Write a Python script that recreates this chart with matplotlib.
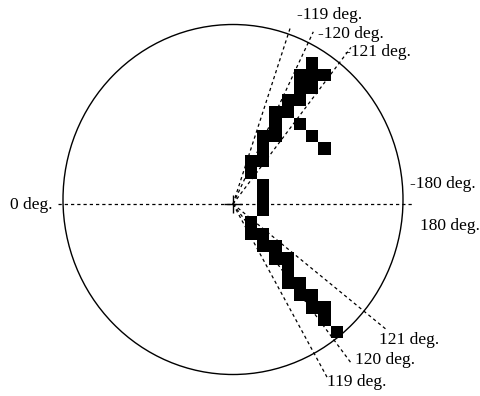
import numpy as np
import matplotlib.pyplot as plt
from matplotlib.patches import Ellipse
from matplotlib.colors import ListedColormap

# Occupied cells of the detection grid: for each row (top to bottom) the occupied columns
grid_rows = [
    [5], [4, 5, 6], [4, 5], [3, 4], [2, 3], [2, 4], [1, 2, 5], [1, 6],
    [0, 1], [0], [1], [1], [1], [0], [0, 1], [1, 2], [2, 3], [3],
    [3, 4], [4, 5], [5, 6], [6], [7],
]
n_cols = 8

# Bearing labels and the on-screen direction (degrees, counter-clockwise from +x) of each ray
ray_labels = ["-119 deg.", "-120 deg.", "-121 deg.", "119 deg.", "120 deg.", "121 deg."]
ray_dirs = [72.0, 65.0, 53.0, -61.5, -53.4, -39.3]
ray_lengths = [187, 190, 196, 197, 197, 199]
label_pos = [(64, 189), (85, 170), (112, 152), (94, -178), (122, -156), (146, -136)]

axis_labels = ["0 deg.", "-180 deg.", "180 deg."]
axis_label_pos = [(-180, -1), (177, 20), (187, -22)]
axis_label_ha = ["right", "left", "left"]

fig = plt.figure(figsize=(4.81, 3.96), dpi=100)
ax = fig.add_axes([0, 0, 1, 1])
ax.set_xlim(-233, 248)
ax.set_ylim(-192, 204)
ax.axis("off")

font = dict(family="Liberation Serif", size=12.5, color="black")

# outer ring
ax.add_patch(Ellipse((0, 4.5), 340, 350, fill=False, lw=1.0, ec="black"))

dash = (0, (2.6, 2.4))
# horizontal reference line through the origin
ax.plot([-175, 179], [0, 0], color="black", lw=0.9, ls=dash)

# bearing rays
for d, L in zip(ray_dirs, ray_lengths):
    t = np.deg2rad(d)
    ax.plot([0, L * np.cos(t)], [0, L * np.sin(t)], color="black", lw=0.9, ls=dash)

# grid of occupied cells
grid = np.zeros((len(grid_rows), n_cols))
for i, cols in enumerate(grid_rows):
    grid[i, cols] = 1
pitch = 12.2
x0, y_top = 12.5, 146.7
ax.imshow(np.ma.masked_equal(grid, 0), cmap=ListedColormap(["black"]),
          extent=(x0, x0 + n_cols * pitch, y_top - len(grid_rows) * pitch, y_top),
          interpolation="nearest", aspect="auto", zorder=3)
ax.set_xlim(-233, 248)
ax.set_ylim(-192, 204)

# origin marker
ax.plot([0], [0], marker="+", ms=13, mew=1.0, color="black", zorder=4)

for txt, (x, y) in zip(ray_labels, label_pos):
    ax.text(x, y, txt, ha="left", va="center", **font)
for txt, (x, y), ha in zip(axis_labels, axis_label_pos, axis_label_ha):
    ax.text(x, y, txt, ha=ha, va="center", **font)

fig.savefig("out.png", dpi=100)
